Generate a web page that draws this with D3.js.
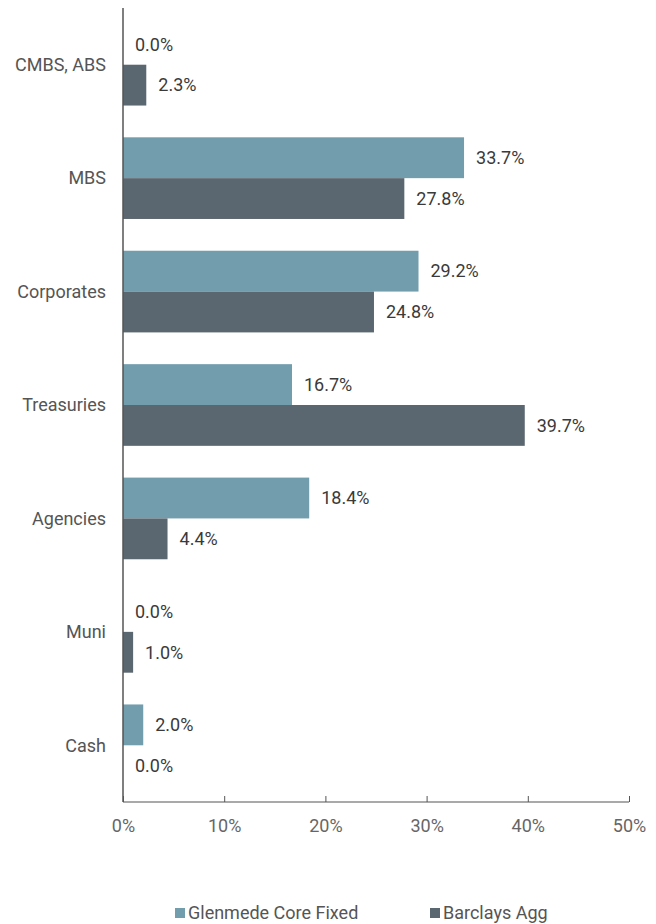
<!DOCTYPE html>
<html>
<head>
<meta charset="utf-8">
<script src="https://d3js.org/d3.v7.min.js"></script>
<style>
  body { margin: 0; background: #fff; }
  text { font-family: Roboto, "Open Sans", sans-serif; }
</style>
</head>
<body>
<div id="chart"></div>
<script>
// sector weights, in percent
const categories = ["CMBS, ABS", "MBS", "Corporates", "Treasuries", "Agencies", "Muni", "Cash"];
const seriesNames = ["Glenmede Core Fixed", "Barclays Agg"];
const glenmede = [0.0, 33.7, 29.2, 16.7, 18.4, 0.0, 2.0];
const barclays = [2.3, 27.8, 24.8, 39.7, 4.4, 1.0, 0.0];
const xTicks = [0, 10, 20, 30, 40, 50];
const colors = ["#729dad", "#5b6770"];

const width = 656, height = 924;
const margins = { l: 123, r: 27, t: 8, b: 122 };
const chartWidth = width - margins.l - margins.r,
      chartHeight = height - margins.t - margins.b;
const fontSize = 18;

const svg = d3.select("#chart").append("svg")
    .attr("width", width)
    .attr("height", height);

const g = svg.append("g")
    .attr("transform", `translate(${margins.l},${margins.t})`);

const x = d3.scaleLinear().domain([0, 50]).range([0, chartWidth]);
const y = d3.scaleBand().domain(categories).range([0, chartHeight]).paddingInner(0.28).paddingOuter(0.14);
const ySub = d3.scaleBand().domain([0, 1]).range([0, y.bandwidth()]);

const rows = categories.map((c, i) => ({ cat: c, vals: [glenmede[i], barclays[i]] }));

const groups = g.selectAll(".cat")
    .data(rows)
    .enter().append("g")
    .attr("class", "cat")
    .attr("transform", d => `translate(0,${y(d.cat)})`);

groups.selectAll("rect")
    .data(d => d.vals.map((v, k) => ({ v, k })))
    .enter().append("rect")
    .attr("x", 0)
    .attr("y", d => ySub(d.k))
    .attr("height", ySub.bandwidth())
    .attr("width", d => x(d.v))
    .attr("fill", d => colors[d.k]);

groups.selectAll(".val")
    .data(d => d.vals.map((v, k) => ({ v, k })))
    .enter().append("text")
    .attr("class", "val")
    .attr("x", d => x(d.v) + 12)
    .attr("y", d => ySub(d.k) + ySub.bandwidth() / 2)
    .attr("dy", "0.35em")
    .attr("font-size", fontSize)
    .attr("fill", "#3a3a3a")
    .text(d => d.v.toFixed(1) + "%");

// category labels
g.selectAll(".catlabel")
    .data(categories)
    .enter().append("text")
    .attr("class", "catlabel")
    .attr("x", -17)
    .attr("y", d => y(d) + y.bandwidth() / 2)
    .attr("dy", "0.35em")
    .attr("text-anchor", "end")
    .attr("font-size", fontSize)
    .attr("fill", "#555")
    .text(d => d);

// y axis line
g.append("line")
    .attr("x1", 0).attr("x2", 0)
    .attr("y1", 0).attr("y2", chartHeight)
    .attr("stroke", "#555")
    .attr("stroke-width", 1.5);

// x axis: ticks pointing up into the plot
const xAxis = g.append("g")
    .attr("transform", `translate(0,${chartHeight})`)
    .call(d3.axisBottom(x).tickValues(xTicks).tickSize(-6).tickPadding(17).tickFormat(d => d + "%"));
xAxis.select(".domain").attr("stroke", "#555").attr("stroke-width", 1.2).attr("d", `M0,0H${chartWidth}`);
xAxis.selectAll(".tick line").attr("stroke", "#555");
xAxis.selectAll(".tick text")
    .attr("font-size", fontSize)
    .attr("font-family", "Roboto, sans-serif")
    .attr("fill", "#666");

// legend
const legendX = [175, 430];
const legend = svg.selectAll(".legend")
    .data(seriesNames)
    .enter().append("g")
    .attr("class", "legend")
    .attr("transform", (d, i) => `translate(${legendX[i]},913)`);
legend.append("rect")
    .attr("x", 0).attr("y", -5)
    .attr("width", 10).attr("height", 10)
    .attr("fill", (d, i) => colors[i]);
legend.append("text")
    .attr("x", 13)
    .attr("dy", "0.35em")
    .attr("font-size", fontSize)
    .attr("fill", "#555")
    .text(d => d);
</script>
</body>
</html>
